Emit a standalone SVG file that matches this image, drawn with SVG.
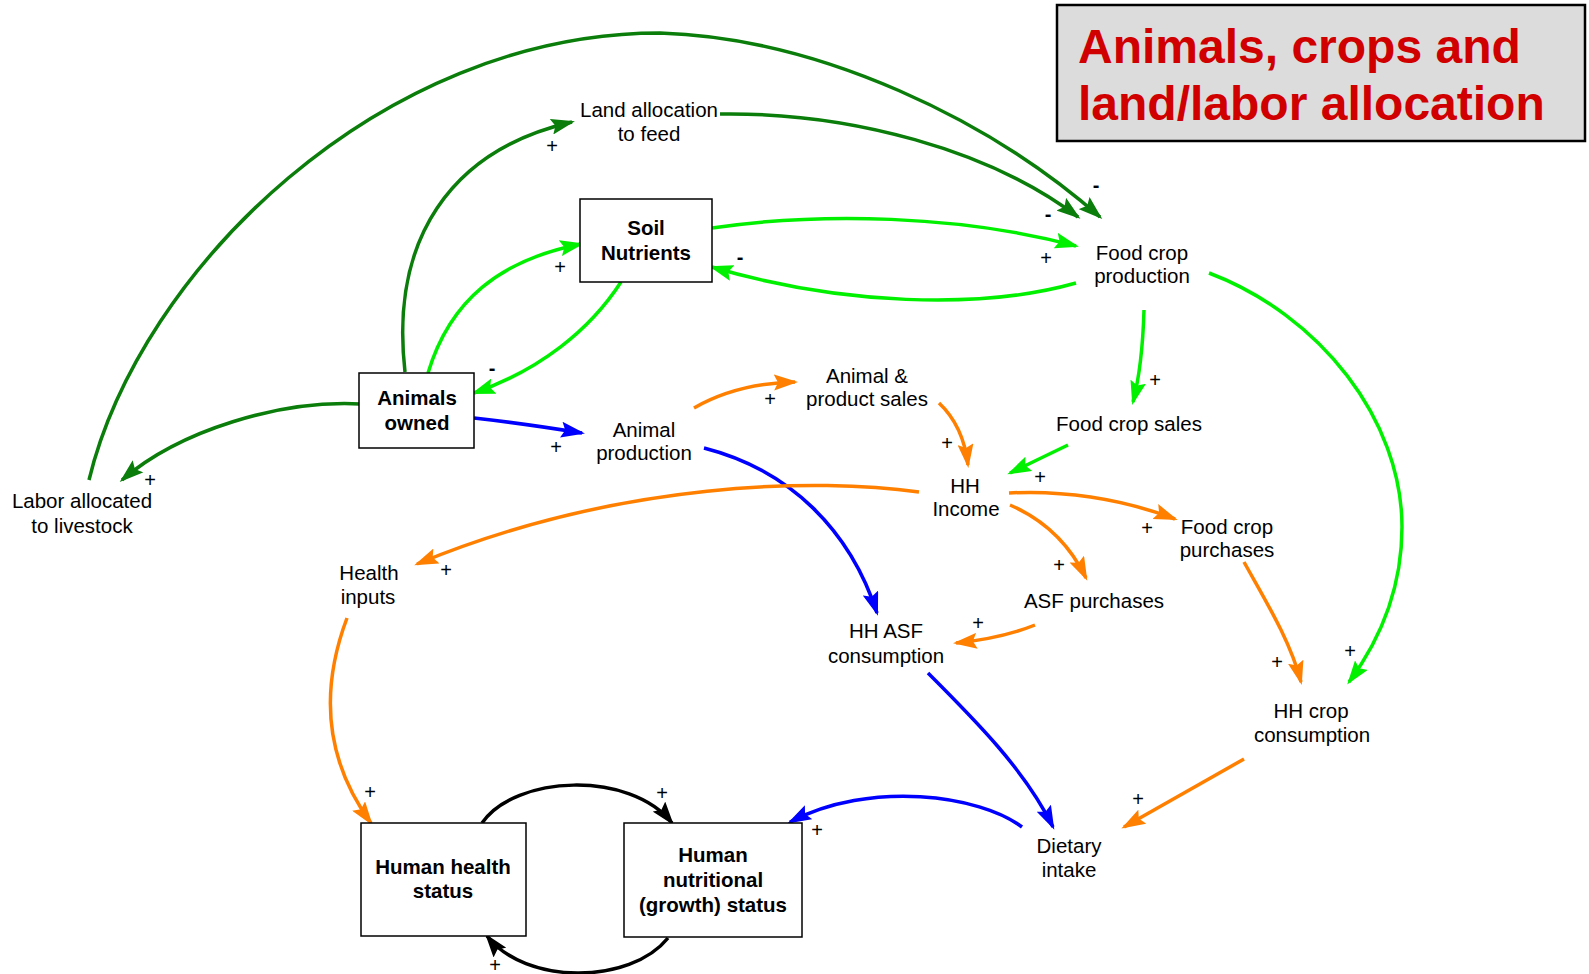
<svg xmlns="http://www.w3.org/2000/svg" width="1589" height="974" viewBox="0 0 1589 974">
<style>
text{font-family:"Liberation Sans",Arial,sans-serif;fill:#000}
.t{font-size:20.5px;text-anchor:middle}
.b{font-size:20.5px;font-weight:bold;text-anchor:middle}
.s{font-size:20px;text-anchor:middle}
.m{font-size:20px;font-weight:bold;text-anchor:middle}
.box{fill:#fff;stroke:#000;stroke-width:1.5}
.c{fill:none;stroke-width:3.5;stroke-linecap:butt}
.dg{stroke:#0a7d0a}
.lg{stroke:#00f000}
.bl{stroke:#0000ff}
.or{stroke:#ff8000}
.bk{stroke:#000}
</style>
<defs>
<marker id="mdg" markerWidth="25" markerHeight="16" refX="21" refY="8" orient="auto" markerUnits="userSpaceOnUse"><path d="M0,0 L24,8 L0,16 L4,8 z" fill="#0a7d0a"/></marker>
<marker id="mlg" markerWidth="25" markerHeight="16" refX="21" refY="8" orient="auto" markerUnits="userSpaceOnUse"><path d="M0,0 L24,8 L0,16 L4,8 z" fill="#00f000"/></marker>
<marker id="mbl" markerWidth="25" markerHeight="16" refX="21" refY="8" orient="auto" markerUnits="userSpaceOnUse"><path d="M0,0 L24,8 L0,16 L4,8 z" fill="#0000ff"/></marker>
<marker id="mor" markerWidth="25" markerHeight="16" refX="21" refY="8" orient="auto" markerUnits="userSpaceOnUse"><path d="M0,0 L24,8 L0,16 L4,8 z" fill="#ff8000"/></marker>
<marker id="mbk" markerWidth="25" markerHeight="16" refX="21" refY="8" orient="auto" markerUnits="userSpaceOnUse"><path d="M0,0 L24,8 L0,16 L4,8 z" fill="#000"/></marker>
</defs>
<rect width="1589" height="974" fill="#fff"/>

<g id="title">
<rect x="1057" y="5" width="528" height="136" fill="#dcdcdc" stroke="#000" stroke-width="2.5"/>
<text x="1078" y="63" style="font-size:48px;font-weight:bold;fill:#d00000">Animals, crops and</text>
<text x="1078" y="120" style="font-size:48px;font-weight:bold;fill:#d00000">land/labor allocation</text>
</g>

<g id="connectors">
<path class="c dg" d="M89,480 C140,270 380,33 660,33 C820,38 990,120 1100,217" marker-end="url(#mdg)"/>
<path class="c dg" d="M720,114 C850,112 990,150 1078,217" marker-end="url(#mdg)"/>
<path class="c dg" d="M405,372 C390,240 450,150 572,122" marker-end="url(#mdg)"/>
<path class="c dg" d="M360,404 C280,400 180,430 122,480" marker-end="url(#mdg)"/>
<path class="c lg" d="M428,373 C450,300 500,260 581,244" marker-end="url(#mlg)"/>
<path class="c lg" d="M621,282 C590,330 540,370 474,393" marker-end="url(#mlg)"/>
<path class="c lg" d="M712,228 C820,212 960,215 1076,246" marker-end="url(#mlg)"/>
<path class="c lg" d="M1076,283 C980,310 840,305 712,267" marker-end="url(#mlg)"/>
<path class="c lg" d="M1144,310 C1143,345 1140,375 1133,402" marker-end="url(#mlg)"/>
<path class="c lg" d="M1068,445 L1010,473" marker-end="url(#mlg)"/>
<path class="c lg" d="M1209,273 C1320,315 1402,420 1402,527 C1402,590 1380,640 1349,682" marker-end="url(#mlg)"/>
<path class="c bl" d="M474,418 C510,422 545,427 582,433" marker-end="url(#mbl)"/>
<path class="c bl" d="M704,448 C790,470 850,530 877,613" marker-end="url(#mbl)"/>
<path class="c bl" d="M928,673 C975,720 1025,770 1053,827" marker-end="url(#mbl)"/>
<path class="c bl" d="M1022,827 C980,795 870,780 790,822" marker-end="url(#mbl)"/>
<path class="c or" d="M694,408 C720,393 755,383 795,382" marker-end="url(#mor)"/>
<path class="c or" d="M939,403 C955,418 965,440 968,465" marker-end="url(#mor)"/>
<path class="c or" d="M919,492 C820,478 620,480 417,564" marker-end="url(#mor)"/>
<path class="c or" d="M347,618 C320,690 325,760 371,823" marker-end="url(#mor)"/>
<path class="c or" d="M1009,493 C1060,490 1120,498 1175,519" marker-end="url(#mor)"/>
<path class="c or" d="M1010,505 C1045,520 1070,545 1086,578" marker-end="url(#mor)"/>
<path class="c or" d="M1035,625 C1010,635 985,640 956,643" marker-end="url(#mor)"/>
<path class="c or" d="M1244,562 C1265,600 1290,640 1301,682" marker-end="url(#mor)"/>
<path class="c or" d="M1244,759 L1124,827" marker-end="url(#mor)"/>
<path class="c bk" d="M482,823 C515,775 630,770 672,823" marker-end="url(#mbk)"/>
<path class="c bk" d="M668,938 C630,985 525,985 487,936" marker-end="url(#mbk)"/>
<g id="polarities">
<text class="s" x="552" y="153">+</text>
<text class="s" x="560" y="274">+</text>
<text class="m" x="492" y="375">-</text>
<text class="m" x="740" y="264">-</text>
<text class="s" x="1046" y="265">+</text>
<text class="m" x="1048" y="221">-</text>
<text class="m" x="1096" y="192">-</text>
<text class="s" x="150" y="487">+</text>
<text class="s" x="556" y="454">+</text>
<text class="s" x="770" y="406">+</text>
<text class="s" x="947" y="450">+</text>
<text class="s" x="1155" y="387">+</text>
<text class="s" x="1040" y="484">+</text>
<text class="s" x="1350" y="658">+</text>
<text class="s" x="446" y="577">+</text>
<text class="s" x="370" y="799">+</text>
<text class="s" x="662" y="800">+</text>
<text class="s" x="495" y="972">+</text>
<text class="s" x="817" y="837">+</text>
<text class="s" x="1147" y="535">+</text>
<text class="s" x="1059" y="572">+</text>
<text class="s" x="978" y="630">+</text>
<text class="s" x="1277" y="669">+</text>
<text class="s" x="1138" y="806">+</text>
</g>
</g>

<g id="land-allocation"><text class="t" x="649" y="117">Land allocation</text><text class="t" x="649" y="141">to feed</text></g>
<g id="soil-nutrients"><rect class="box" x="580" y="199" width="132" height="83"/><text class="b" x="646" y="235">Soil</text><text class="b" x="646" y="260">Nutrients</text></g>
<g id="animals-owned"><rect class="box" x="359" y="373" width="115" height="75"/><text class="b" x="417" y="405">Animals</text><text class="b" x="417" y="430">owned</text></g>
<g id="animal-production"><text class="t" x="644" y="437">Animal</text><text class="t" x="644" y="460">production</text></g>
<g id="labor-allocated"><text class="t" x="82" y="508">Labor allocated</text><text class="t" x="82" y="533">to livestock</text></g>
<g id="health-inputs"><text class="t" x="369" y="580">Health</text><text class="t" x="368" y="604">inputs</text></g>
<g id="human-health"><rect class="box" x="361" y="823" width="165" height="113"/><text class="b" x="443" y="874">Human health</text><text class="b" x="443" y="898">status</text></g>
<g id="human-nutrition"><rect class="box" x="624" y="823" width="178" height="114"/><text class="b" x="713" y="862">Human</text><text class="b" x="713" y="887">nutritional</text><text class="b" x="713" y="912">(growth) status</text></g>
<g id="food-crop-production"><text class="t" x="1142" y="260">Food crop</text><text class="t" x="1142" y="283">production</text></g>
<g id="animal-product-sales"><text class="t" x="867" y="383">Animal &amp;</text><text class="t" x="867" y="406">product sales</text></g>
<g id="food-crop-sales"><text class="t" x="1129" y="431">Food crop sales</text></g>
<g id="hh-income"><text class="t" x="965" y="493">HH</text><text class="t" x="966" y="516">Income</text></g>
<g id="food-crop-purchases"><text class="t" x="1227" y="534">Food crop</text><text class="t" x="1227" y="557">purchases</text></g>
<g id="asf-purchases"><text class="t" x="1094" y="608">ASF purchases</text></g>
<g id="hh-asf-consumption"><text class="t" x="886" y="638">HH ASF</text><text class="t" x="886" y="663">consumption</text></g>
<g id="hh-crop-consumption"><text class="t" x="1311" y="718">HH crop</text><text class="t" x="1312" y="742">consumption</text></g>
<g id="dietary-intake"><text class="t" x="1069" y="853">Dietary</text><text class="t" x="1069" y="877">intake</text></g>
</svg>
